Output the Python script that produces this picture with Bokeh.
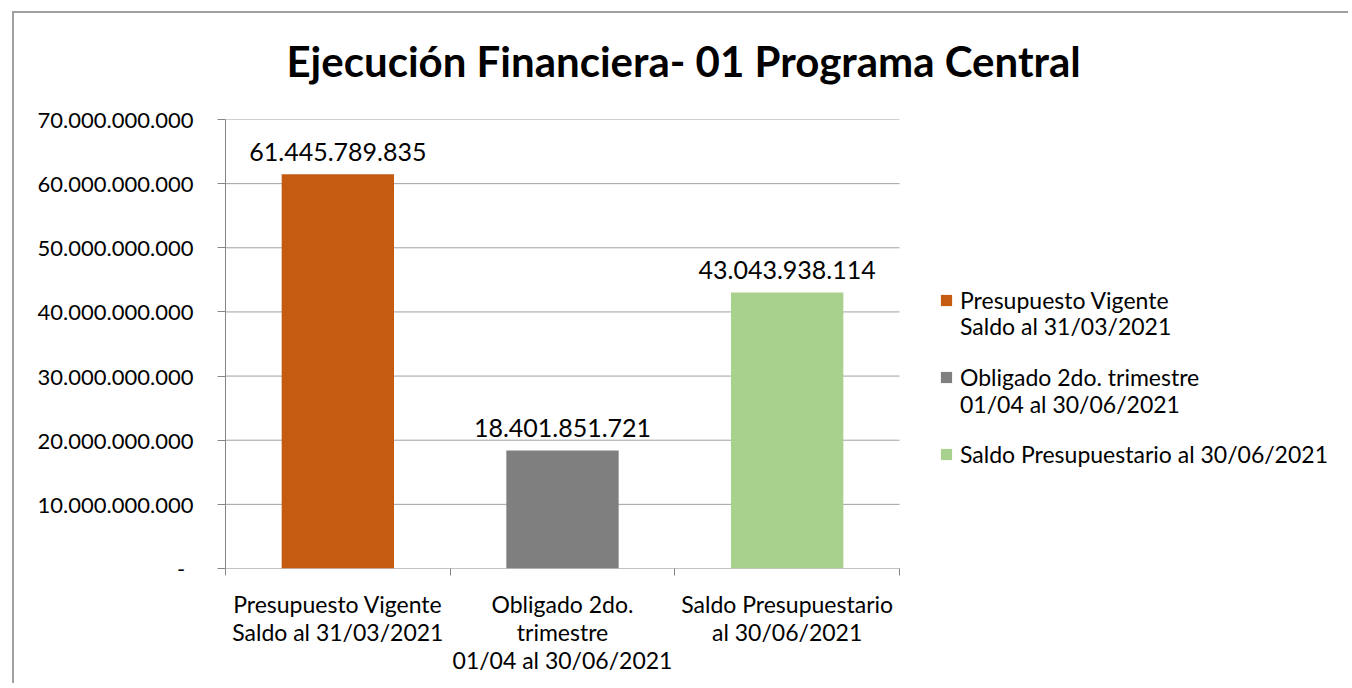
from bokeh.plotting import figure
from bokeh.models import FixedTicker, Range1d, Legend, LegendItem, ColumnDataSource, Title
from bokeh.embed import file_html
from bokeh.resources import INLINE
from bokeh.core.properties import value

title_text = "Ejecución Financiera- 01 Programa Central"
categories = ["Presupuesto Vigente\nSaldo al 31/03/2021",
              "Obligado 2do.\ntrimestre\n01/04 al 30/06/2021",
              "Saldo Presupuestario\nal 30/06/2021"]
legend_first_lines = ["Presupuesto Vigente",
                      "Obligado 2do. trimestre",
                      "Saldo Presupuestario al 30/06/2021"]
legend_second_lines = ["Saldo al 31/03/2021",
                       "01/04 al 30/06/2021",
                       None]
values = [61445789835, 18401851721, 43043938114]
colors = ["#C55A11", "#7F7F7F", "#A9D18E"]
y_ticks = [0, 10e9, 20e9, 30e9, 40e9, 50e9, 60e9, 70e9]

FONT = "Lato"
TXT = "#000000"
AX = "#868686"
GRID = "#A0A0A0"

def fmt(v):
    return f"{v:,.0f}".replace(",", ".")

W, H = 1336, 672
LEFT, TOP, BOTTOM = 211, 106, 117
PLOT_W = 674                      # pixel width of the category area
n = len(values)
x_end = n * (W - LEFT) / PLOT_W   # frame extends right to host the legend

p = figure(width=W, height=H, output_backend="svg", toolbar_location=None, title=None,
           x_range=Range1d(0, x_end), y_range=Range1d(0, y_ticks[-1]),
           min_border_left=LEFT, min_border_right=0, min_border_top=TOP, min_border_bottom=BOTTOM)
p.outline_line_color = None
p.background_fill_color = "white"
p.border_fill_color = "white"
p.styles = {"margin-left": "12px", "margin-top": "11px",
            "border-left": "2px solid #A0A0A0", "border-top": "2px solid #A0A0A0"}

spacer = Title(text=" ", text_font_size="16px")
p.add_layout(spacer, "above")
ttl = Title(text=title_text, text_font=FONT, text_font_style="bold", text_font_size="42px",
            align="left", offset=61, text_color=TXT)
p.add_layout(ttl, "above")

# horizontal gridlines over the category area only
gsrc = ColumnDataSource(dict(x0=[0] * (len(y_ticks) - 1), x1=[n] * (len(y_ticks) - 1), y=y_ticks[1:]))
p.segment(x0="x0", x1="x1", y0="y", y1="y", source=gsrc, line_color=GRID, line_width=1)
# x axis baseline over the category area
p.segment(x0=[0], x1=[n], y0=[0], y1=[0], line_color=AX, line_width=1)

xs = [i + 0.5 for i in range(n)]
bars = []
for x, v, c in zip(xs, values, colors):
    src = ColumnDataSource(dict(x=[x], top=[v], txt=[fmt(v)]))
    r = p.vbar(x="x", top="top", bottom=0, width=0.5, fill_color=c, line_color=None, source=src)
    p.text(x="x", y="top", text="txt", source=src, text_align="center", text_baseline="bottom",
           y_offset=-13, text_font=value(FONT), text_font_size="25px", text_color=TXT)
    bars.append(r)

xa = p.xaxis[0]
xa.ticker = FixedTicker(ticks=xs, minor_ticks=list(range(n + 1)))
xa.major_label_overrides = {x: c for x, c in zip(xs, categories)}
xa.major_tick_out = 0
xa.major_tick_in = 0
xa.minor_tick_out = 7
xa.minor_tick_in = 0
xa.minor_tick_line_color = AX
xa.axis_line_color = None
xa.major_label_text_font = FONT
xa.major_label_text_font_size = "23px"
xa.major_label_text_line_height = 1.0
xa.major_label_text_color = TXT
xa.major_label_standoff = 14

ya = p.yaxis[0]
ya.ticker = FixedTicker(ticks=y_ticks, minor_ticks=[])
ya.major_label_overrides = {t: (fmt(t) if t else "-\u00a0\u2009") for t in y_ticks}
ya.major_tick_out = 8
ya.major_tick_in = 0
ya.major_tick_line_color = AX
ya.axis_line_color = AX
ya.major_label_text_font = FONT
ya.major_label_text_font_size = "22px"
ya.major_label_text_color = TXT
ya.major_label_standoff = 24

p.xgrid.visible = False
p.ygrid.visible = False

def style_legend(lg):
    lg.border_line_color = None
    lg.background_fill_alpha = 0
    lg.label_text_font = FONT
    lg.label_text_font_size = "23px"
    lg.label_text_color = TXT
    lg.glyph_height = 14
    lg.padding = 0
    lg.margin = 0
    lg.orientation = "vertical"

# first lines with the colour squares
leg1 = Legend(items=[LegendItem(label=t, renderers=[r]) for t, r in zip(legend_first_lines, bars)],
              location=(714, 100))
style_legend(leg1)
leg1.glyph_width = 14
leg1.label_standoff = 7
leg1.spacing = 49
p.add_layout(leg1, "center")

# continuation lines (no squares)
leg2 = Legend(items=[LegendItem(label=t, renderers=[r]) for t, r in zip(legend_second_lines, bars) if t],
              location=(714, 150))
style_legend(leg2)
leg2.glyph_width = 0
leg2.label_standoff = 21
leg2.spacing = 50
p.add_layout(leg2, "center")

open("out.html", "w").write(file_html(p, INLINE))
